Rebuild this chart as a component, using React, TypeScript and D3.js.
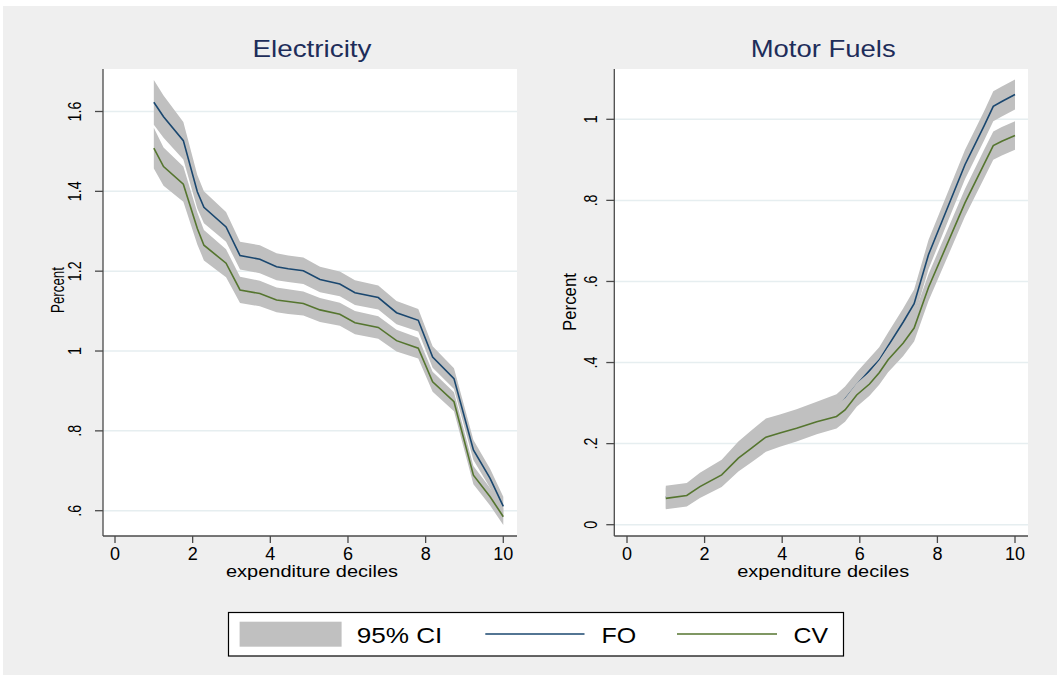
import React from "react";
import * as d3 from "d3";

// ---------- data ----------
const elecX = [1.0, 1.25, 1.76, 2.12, 2.29, 2.86, 3.22, 3.73, 4.16, 4.46, 4.85, 5.28, 5.79, 6.18, 6.78, 7.25, 7.81, 8.18, 8.73, 9.23, 9.66, 10.0];
const elecFO = [1.623, 1.587, 1.527, 1.399, 1.36, 1.311, 1.239, 1.23, 1.211, 1.206, 1.201, 1.179, 1.168, 1.146, 1.134, 1.096, 1.077, 0.985, 0.931, 0.752, 0.681, 0.611];
const elecCV = [1.508, 1.462, 1.418, 1.307, 1.265, 1.22, 1.153, 1.144, 1.128, 1.124, 1.119, 1.103, 1.092, 1.071, 1.059, 1.026, 1.007, 0.923, 0.873, 0.689, 0.635, 0.585];
const elecFOci = [0.056, 0.053, 0.047, 0.042, 0.04, 0.037, 0.035, 0.035, 0.034, 0.033, 0.033, 0.032, 0.031, 0.031, 0.03, 0.029, 0.028, 0.027, 0.026, 0.025, 0.024, 0.024];
const elecCVci = [0.051, 0.048, 0.044, 0.04, 0.038, 0.035, 0.033, 0.032, 0.031, 0.031, 0.03, 0.03, 0.029, 0.029, 0.028, 0.027, 0.026, 0.025, 0.024, 0.023, 0.022, 0.021];

const fuelX = [1.0, 1.54, 1.88, 2.44, 2.87, 3.21, 3.58, 3.94, 4.37, 4.89, 5.4, 5.62, 5.92, 6.25, 6.5, 6.73, 7.12, 7.4, 7.77, 8.71, 9.2, 9.44, 9.66, 10.0];
const fuelFO = [0.068, 0.075, 0.098, 0.128, 0.17, 0.196, 0.224, 0.236, 0.25, 0.27, 0.29, 0.31, 0.345, 0.38, 0.406, 0.441, 0.5, 0.545, 0.666, 0.888, 0.983, 1.032, 1.044, 1.061];
const fuelCV = [0.065, 0.072, 0.094, 0.123, 0.164, 0.189, 0.216, 0.226, 0.238, 0.254, 0.267, 0.283, 0.32, 0.347, 0.375, 0.407, 0.448, 0.485, 0.585, 0.794, 0.889, 0.935, 0.946, 0.96];
const fuelFOci = [0.028, 0.028, 0.03, 0.032, 0.035, 0.037, 0.038, 0.036, 0.035, 0.033, 0.032, 0.031, 0.031, 0.031, 0.032, 0.033, 0.034, 0.035, 0.036, 0.036, 0.036, 0.037, 0.037, 0.037];
const fuelCVci = [0.027, 0.027, 0.028, 0.03, 0.033, 0.035, 0.036, 0.034, 0.033, 0.031, 0.03, 0.029, 0.029, 0.029, 0.03, 0.031, 0.032, 0.033, 0.033, 0.034, 0.035, 0.035, 0.035, 0.035];

const xTicks = [0, 2, 4, 6, 8, 10];
const xTickLabels = ["0", "2", "4", "6", "8", "10"];
const elecYTicks = [0.6, 0.8, 1.0, 1.2, 1.4, 1.6];
const elecYTickLabels = [".6", ".8", "1", "1.2", "1.4", "1.6"];
const fuelYTicks = [0, 0.2, 0.4, 0.6, 0.8, 1.0];
const fuelYTickLabels = ["0", ".2", ".4", ".6", ".8", "1"];

const panelTitles = ["Electricity", "Motor Fuels"];
const legendLabels = ["95% CI", "FO", "CV"];

// ---------- style ----------
const FONT = "'Liberation Sans', Arial, Helvetica, sans-serif";
const NAVY = "#1a476f";
const GREEN = "#55752f";
const BAND = "#c0c0c0";
const GRID = "#e6eef0";
const AXIS = "#4a4a4a";

type PanelProps = {
  title: string;
  xs: number[];
  fo: number[];
  cv: number[];
  foCi: number[];
  cvCi: number[];
  yTicks: number[];
  yLabels: string[];
  yDomain: [number, number];
  yRange: [number, number];
  xRange: [number, number];
  plotX: [number, number];
  plotY: [number, number];
  yLabelX: number;
  percentX: number;
  percentY: number;
  percentLen: number;
  titleLen: number;
};

function Panel(p: PanelProps) {
  const x = d3.scaleLinear().domain([0, 10]).range(p.xRange);
  const y = d3.scaleLinear().domain(p.yDomain).range(p.yRange);
  const idx = p.xs.map((_, i) => i);
  const area = (vals: number[], ci: number[]) =>
    d3
      .area<number>()
      .x((i) => x(p.xs[i]))
      .y0((i) => y(vals[i] - ci[i]))
      .y1((i) => y(vals[i] + ci[i]))(idx) || "";
  const line = (vals: number[]) =>
    d3
      .line<number>()
      .x((i) => x(p.xs[i]))
      .y((i) => y(vals[i]))(idx) || "";
  const [l, r] = p.plotX;
  const [t, b] = p.plotY;
  const cx = (l + r) / 2 + 2;
  return (
    <g>
      <rect x={l} y={t} width={r - l} height={b - t} fill="#ffffff" />
      {p.yTicks.map((v) => (
        <line key={"g" + v} x1={l} x2={r} y1={y(v)} y2={y(v)} stroke={GRID} strokeWidth={1.5} />
      ))}
      <path d={area(p.fo, p.foCi)} fill={BAND} />
      <path d={line(p.fo)} fill="none" stroke={NAVY} strokeWidth={1.6} />
      <path d={area(p.cv, p.cvCi)} fill={BAND} />
      <path d={line(p.cv)} fill="none" stroke={GREEN} strokeWidth={1.6} />
      {/* axes */}
      <line x1={l} x2={l} y1={t} y2={b} stroke={AXIS} strokeWidth={1.3} />
      <line x1={l} x2={r} y1={b} y2={b} stroke={AXIS} strokeWidth={1.3} />
      {p.yTicks.map((v, i) => (
        <g key={"y" + v}>
          <line x1={l - 8} x2={l} y1={y(v)} y2={y(v)} stroke={AXIS} strokeWidth={1.3} />
          <text
            transform={`translate(${p.yLabelX},${y(v)}) rotate(-90) scale(0.82,1)`}
            textAnchor="middle"
            fontSize={17.5}
            fontFamily={FONT}
            fill="#000"
          >
            {p.yLabels[i]}
          </text>
        </g>
      ))}
      {xTicks.map((v, i) => (
        <g key={"x" + v}>
          <line x1={x(v)} x2={x(v)} y1={b} y2={b + 7} stroke={AXIS} strokeWidth={1.3} />
          <text x={x(v)} y={559.5} textAnchor="middle" fontSize={18} fontFamily={FONT} fill="#000">
            {xTickLabels[i]}
          </text>
        </g>
      ))}
      <text
        x={cx}
        y={577}
        textAnchor="middle"
        fontSize={17}
        fontFamily={FONT}
        textLength={172}
        lengthAdjust="spacingAndGlyphs"
      >
        expenditure deciles
      </text>
      <text
        transform={`translate(${p.percentX},${p.percentY}) rotate(-90)`}
        textAnchor="middle"
        fontSize={19}
        fontFamily={FONT}
        textLength={p.percentLen}
        lengthAdjust="spacingAndGlyphs"
      >
        Percent
      </text>
      <text
        x={cx}
        y={57}
        textAnchor="middle"
        fontSize={24}
        fontFamily={FONT}
        fill="#1e2d5a"
        textLength={p.titleLen}
        lengthAdjust="spacingAndGlyphs"
      >
        {p.title}
      </text>
    </g>
  );
}

export default function App() {
  return (
    <svg
      width={1057}
      height={675}
      style={{ position: "absolute", left: 0, top: 0, display: "block" }}
    >
      <rect x={0} y={0} width={1057} height={675} fill="#ffffff" />
      <rect x={3} y={6} width={1054} height={669} fill="#efefef" />
      <Panel
        title={panelTitles[0]}
        xs={elecX}
        fo={elecFO}
        cv={elecCV}
        foCi={elecFOci}
        cvCi={elecCVci}
        yTicks={elecYTicks}
        yLabels={elecYTickLabels}
        yDomain={[0.6, 1.6]}
        yRange={[510.7, 111.5]}
        xRange={[115, 503.3]}
        plotX={[103, 517]}
        plotY={[69, 536]}
        yLabelX={80.5}
        percentX={63.5}
        percentY={290}
        percentLen={46}
        titleLen={119}
      />
      <Panel
        title={panelTitles[1]}
        xs={fuelX}
        fo={fuelFO}
        cv={fuelCV}
        foCi={fuelFOci}
        cvCi={fuelCVci}
        yTicks={fuelYTicks}
        yLabels={fuelYTickLabels}
        yDomain={[0, 1]}
        yRange={[524.7, 119.3]}
        xRange={[627, 1015]}
        plotX={[614.3, 1028]}
        plotY={[69, 536]}
        yLabelX={597}
        percentX={575.5}
        percentY={302}
        percentLen={58}
        titleLen={145}
      />
      {/* legend */}
      <g>
        <rect x={228.5} y={612.5} width={615} height={43.5} fill="#ffffff" stroke="#000" strokeWidth={1.2} />
        <rect x={239.6} y={621.7} width={102} height={25} fill={BAND} />
        <text x={356.7} y={642.7} fontSize={22} fontFamily={FONT} textLength={85.7} lengthAdjust="spacingAndGlyphs">
          {legendLabels[0]}
        </text>
        <line x1={485.3} x2={584.5} y1={634} y2={634} stroke={NAVY} strokeWidth={1.6} />
        <text x={601.6} y={642.7} fontSize={22} fontFamily={FONT} textLength={34.7} lengthAdjust="spacingAndGlyphs">
          {legendLabels[1]}
        </text>
        <line x1={677} x2={777} y1={634} y2={634} stroke={GREEN} strokeWidth={1.6} />
        <text x={793.5} y={642.7} fontSize={22} fontFamily={FONT} textLength={34.5} lengthAdjust="spacingAndGlyphs">
          {legendLabels[2]}
        </text>
      </g>
    </svg>
  );
}
